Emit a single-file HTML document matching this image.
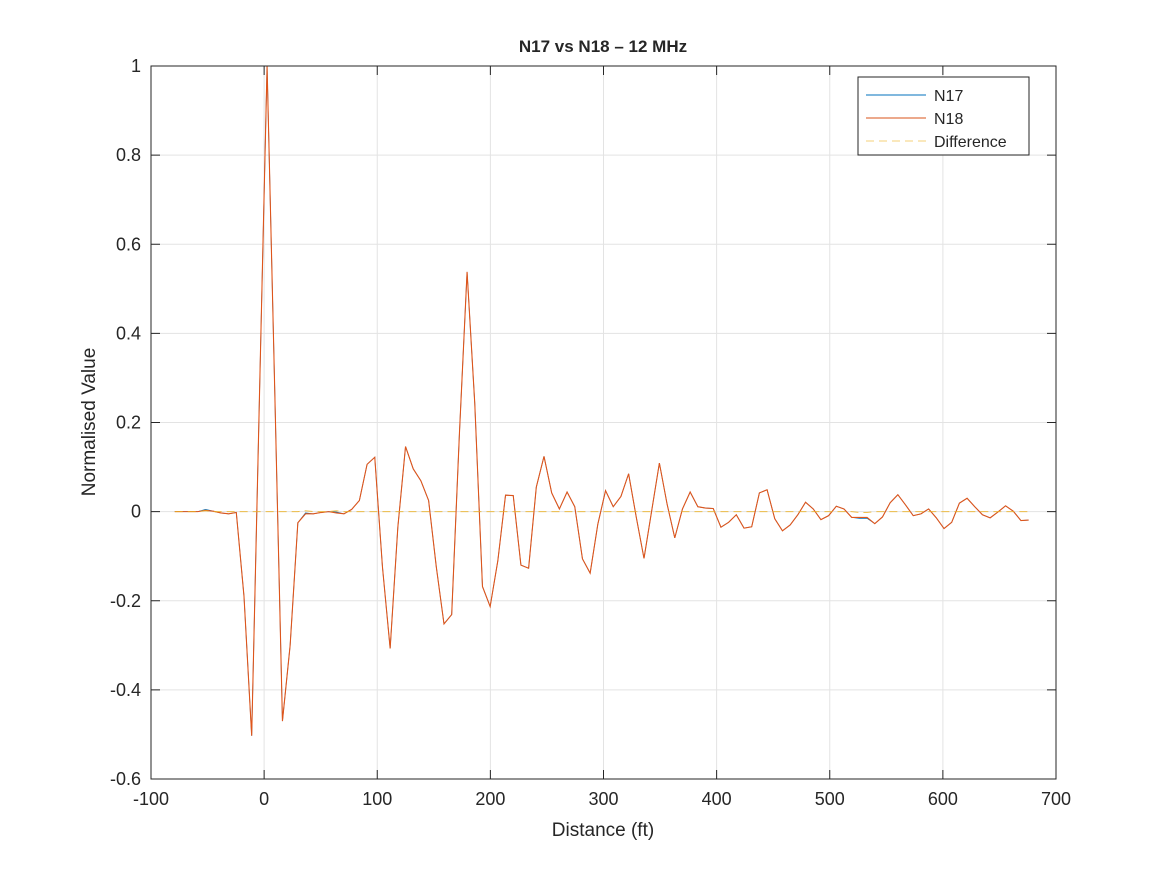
<!DOCTYPE html>
<html><head><meta charset="utf-8"><style>
body{margin:0;background:#fff;}
svg text{font-family:"Liberation Sans",Arial,sans-serif;fill:#262626;}
</style></head><body>
<svg id="chart" width="1167" height="875" xmlns="http://www.w3.org/2000/svg">
<rect width="1167" height="875" fill="#fff"/>
<g id="grid"></g>
<g id="series"></g>
<rect x="151" y="66" width="905" height="713" fill="none" stroke="#262626" stroke-width="1"/>
<g id="ticks"></g>
<text x="603" y="52" text-anchor="middle" font-size="17" font-weight="bold" fill="#000">N17 vs N18 – 12 MHz</text>
<text x="603" y="836" text-anchor="middle" font-size="19">Distance (ft)</text>
<text transform="translate(95,422) rotate(-90)" text-anchor="middle" font-size="19">Normalised Value</text>
<g>
<rect x="858" y="77" width="171" height="78" fill="#fff" stroke="#262626" stroke-width="1"/>
<line x1="866" y1="95" x2="926" y2="95" stroke="#0072BD" stroke-width="1"/>
<text x="934" y="101" font-size="16">N17</text>
<line x1="866" y1="118" x2="926" y2="118" stroke="#D95319" stroke-width="1"/>
<text x="934" y="124" font-size="16">N18</text>
<line x1="866" y1="141" x2="926" y2="141" stroke="#EDB120" stroke-width="1" stroke-dasharray="8,5" opacity="0.6"/>
<text x="934" y="147" font-size="16">Difference</text>
</g>
</svg>
<script>
const xStart = -79;
const xStep = 6.8;
const n18 = [0,0,0,0,0.003,0.001,-0.003,-0.005,-0.002,-0.19,-0.503,0.25,1.0,0.27,-0.47,-0.30,-0.025,-0.005,-0.005,-0.002,0,-0.003,-0.005,0.005,0.025,0.106,0.122,-0.124,-0.307,-0.035,0.146,0.096,0.069,0.025,-0.124,-0.252,-0.231,0.173,0.538,0.243,-0.168,-0.213,-0.11,0.037,0.036,-0.12,-0.127,0.055,0.124,0.042,0.006,0.044,0.011,-0.106,-0.138,-0.028,0.047,0.011,0.034,0.085,-0.013,-0.105,0.002,0.109,0.017,-0.059,0.006,0.044,0.011,0.008,0.007,-0.035,-0.024,-0.007,-0.037,-0.034,0.042,0.049,-0.016,-0.043,-0.030,-0.007,0.021,0.006,-0.018,-0.009,0.012,0.006,-0.013,-0.013,-0.013,-0.027,-0.012,0.02,0.038,0.015,-0.009,-0.005,0.006,-0.014,-0.038,-0.024,0.019,0.03,0.011,-0.007,-0.014,-0.001,0.013,0.001,-0.02,-0.019];
const n17Offsets = [0,0,0,0,0.002,0,0,0,0,0,0,0,0,0,0,0,0,0.002,0,0,0,0.002,0,0,0,0,0,0,0,0,0,0,0,0,0,0,0,0,0,0,0,0,0,0,0,0,0,0,0,0,0,0,0,0,0,0,0,0,0,0,0,0,0,0,0,0,0,0,0,0,0,0,0,0,0,0,0,0,0,0,0,0,0,0,0,0,0,0,0,-0.002,-0.002,0,0,0,0,0,0,0,0,0,0,0,0,0,0,0,0,0,0,0,0,0];
const xTicks = [-100,0,100,200,300,400,500,600,700];
const yTicks = [-0.6,-0.4,-0.2,0,0.2,0.4,0.6,0.8,1];
const yTickLabels = ["-0.6","-0.4","-0.2","0","0.2","0.4","0.6","0.8","1"];

const L=151,R=1056,T=66,B=779;
const xs=v=>L+(v+100)/800*(R-L);
const ys=v=>B-(v+0.6)/1.6*(B-T);
const NS='http://www.w3.org/2000/svg';
function mk(tag,attrs,parent){const e=document.createElementNS(NS,tag);for(const k in attrs)e.setAttribute(k,attrs[k]);parent.appendChild(e);return e;}
const grid=document.getElementById('grid'),ticks=document.getElementById('ticks'),ser=document.getElementById('series');
xTicks.forEach(t=>{const x=xs(t);
 const g=mk('line',{x1:x,y1:T,x2:x,y2:B,stroke:'#e3e3e3','stroke-width':1},grid);
 
 
 mk('line',{x1:x,y1:B,x2:x,y2:B-9,stroke:'#262626'},ticks);
 mk('line',{x1:x,y1:T,x2:x,y2:T+9,stroke:'#262626'},ticks);
 const tx=mk('text',{x:x,y:B+26,'text-anchor':'middle','font-size':18},ticks);
 
 
 tx.textContent=t;});
yTicks.forEach((t,i)=>{const y=ys(t);
 const g=mk('line',{x1:L,y1:y,x2:R,y2:y,stroke:'#e3e3e3','stroke-width':1},grid);
 
 
 mk('line',{x1:L,y1:y,x2:L+9,y2:y,stroke:'#262626'},ticks);
 mk('line',{x1:R,y1:y,x2:R-9,y2:y,stroke:'#262626'},ticks);
 const tx=mk('text',{x:L-10,y:y+6,'text-anchor':'end','font-size':18},ticks);
 
 
 tx.textContent=yTickLabels[i];});
const n17=n18.map((v,i)=>v+(n17Offsets[i]||0));
const diff=n17.map((v,i)=>v-n18[i]);
function pts(arr){return arr.map((v,i)=>xs(xStart+i*xStep).toFixed(2)+','+ys(v).toFixed(2)).join(' ');}
const p1=mk('polyline',{points:pts(n17),fill:'none',stroke:'#0072BD','stroke-width':0.8},ser);


const p2=mk('polyline',{points:pts(n18),fill:'none',stroke:'#E0551A','stroke-width':1.1},ser);


const p3=mk('polyline',{points:pts(diff),fill:'none',stroke:'#EDB120','stroke-width':1,'stroke-dasharray':'8,5',opacity:0.8},ser);


</script>
</body></html>
